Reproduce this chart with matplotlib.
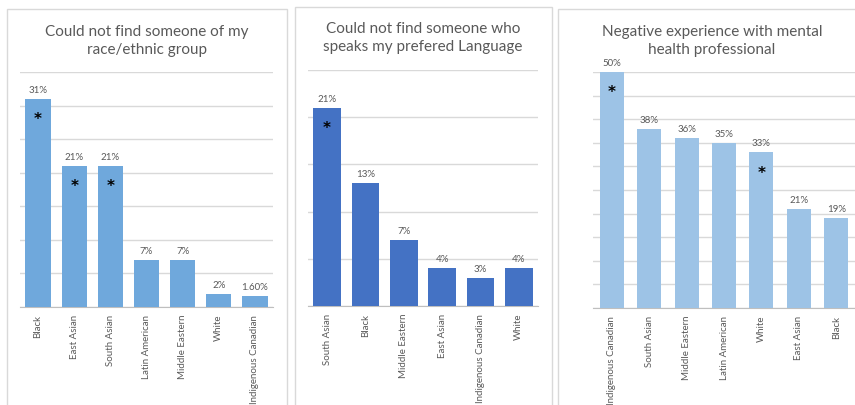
import matplotlib
matplotlib.use("Agg")
import matplotlib.pyplot as plt
from matplotlib.patches import Rectangle

plt.rcParams['font.family'] = ['Lato', 'DejaVu Sans']

W, H = 855, 406

# data
race_groups = ["Black", "East Asian", "South Asian", "Latin American",
               "Middle Eastern", "White", "Indigenous Canadian"]
race_values = [31, 21, 21, 7, 7, 2, 1.6]
race_labels = ["31%", "21%", "21%", "7%", "7%", "2%", "1.60%"]
race_star = [True, True, True, False, False, False, False]

lang_groups = ["South Asian", "Black", "Middle Eastern", "East Asian",
               "Indigenous Canadian", "White"]
lang_values = [21, 13, 7, 4, 3, 4]
lang_labels = ["21%", "13%", "7%", "4%", "3%", "4%"]
lang_star = [True, False, False, False, False, False]

neg_groups = ["Indigenous Canadian", "South Asian", "Middle Eastern",
              "Latin American", "White", "East Asian", "Black"]
neg_values = [50, 38, 36, 35, 33, 21, 19]
neg_labels = ["50%", "38%", "36%", "35%", "33%", "21%", "19%"]
neg_star = [True, False, False, False, True, False, False]

fig = plt.figure(figsize=(W / 100, H / 100), dpi=100)

def px_axes(x0, x1, top, base):
    return fig.add_axes([x0 / W, (H - base) / H, (x1 - x0) / W, (base - top) / H])

def border(x0, x1, y0, y1):
    fig.patches.append(Rectangle((x0 / W, (H - y1) / H), (x1 - x0) / W, (y1 - y0) / H,
                                 transform=fig.transFigure, fill=False,
                                 edgecolor="#D9D9D9", linewidth=1))

def panel(ax, groups, values, labels, stars, color, ymax, width, title, tx, ty):
    n = len(groups)
    ax.bar(range(n), values, width=width, color=color, zorder=3)
    ax.set_xlim(-0.5, n - 0.5)
    ax.set_ylim(0, ymax)
    ax.set_yticks(range(0, ymax + 1, 5))
    ax.yaxis.grid(True, color="#D9D9D9", linewidth=1, zorder=0)
    ax.tick_params(axis="y", left=False, labelleft=False)
    ax.tick_params(axis="x", length=0, pad=5)
    ax.set_xticks(range(n))
    ax.set_xticklabels(groups, rotation=90, fontsize=7, color="#595959")
    for s in ["top", "right", "left"]:
        ax.spines[s].set_visible(False)
    ax.spines["bottom"].set_color("#BFBFBF")
    for i, (v, lab, st) in enumerate(zip(values, labels, stars)):
        ax.annotate(lab, (i, v), xytext=(0, 5), textcoords="offset pixels",
                    ha="center", va="bottom", fontsize=7, color="#595959")
        if st:
            ax.annotate("*", (i, v), xytext=(0, -20), textcoords="offset pixels",
                        ha="center", va="center", fontsize=11, fontweight="bold",
                        color="black", family="DejaVu Sans")
    fig.text(tx / W, (H - ty) / H, title, ha="center", va="center",
             fontsize=11, color="#595959", linespacing=1.45)

border(7, 287, 10, 420)
border(295, 552, 8, 420)
border(558, 870, 10, 420)

ax1 = px_axes(20, 273, 73, 308)
panel(ax1, race_groups, race_values, race_labels, race_star, "#6FA8DC", 35, 0.7,
      "Could not find someone of my\nrace/ethnic group", 147, 41)

ax2 = px_axes(308, 538, 71, 307)
panel(ax2, lang_groups, lang_values, lang_labels, lang_star, "#4472C4", 25, 0.73,
      "Could not find someone who\nspeaks my prefered Language", 423, 38)

ax3 = px_axes(593, 855, 73, 309)
panel(ax3, neg_groups, neg_values, neg_labels, neg_star, "#9DC3E6", 50, 0.64,
      "Negative experience with mental\nhealth professional", 712, 41)

fig.savefig("out.png", dpi=100)
